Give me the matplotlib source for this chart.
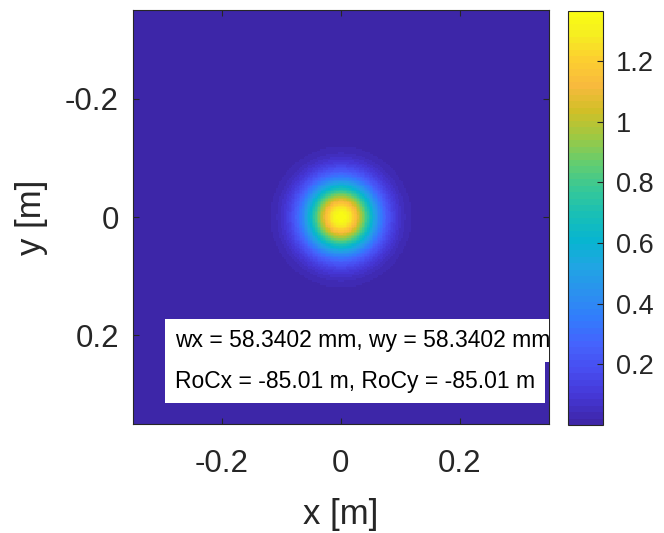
import numpy as np
import matplotlib
matplotlib.use("Agg")
import matplotlib.pyplot as plt
from matplotlib.colors import LinearSegmentedColormap

# beam parameters shown in the annotation
wx_mm = 58.3402
wy_mm = 58.3402
rocx_m = -85.01
rocy_m = -85.01
peak_amp = 1.366          # field amplitude at the beam centre
half_width = 0.35         # half size of the simulation window [m]
n_grid = 256

xticks = [-0.2, 0, 0.2]
yticks = [-0.2, 0, 0.2]
cticks = [0.2, 0.4, 0.6, 0.8, 1.0, 1.2]

# parula, every 4th entry of the 64-colour table
parula_pts = [
    (0.2422, 0.1504, 0.6603), (0.2706, 0.2147, 0.8364), (0.2813, 0.3006, 0.9414),
    (0.2699, 0.3892, 0.9906), (0.1963, 0.4847, 0.9892), (0.1687, 0.5703, 0.9359),
    (0.1248, 0.6459, 0.8883), (0.0297, 0.7082, 0.8163), (0.0964, 0.7500, 0.7120),
    (0.2161, 0.7843, 0.5923), (0.3909, 0.8029, 0.4354), (0.6174, 0.7876, 0.2612),
    (0.8203, 0.7498, 0.1535), (0.9728, 0.7298, 0.2394), (0.9892, 0.8136, 0.1885),
    (0.9628, 0.9373, 0.1265), (0.9769, 0.9839, 0.0805),
]
parula_pos = [i * 4 / 63 for i in range(16)] + [1.0]
parula = LinearSegmentedColormap.from_list(
    "parula", list(zip(parula_pos, parula_pts)), N=64)


def main():
    plt.rcParams['font.family'] = ['Liberation Sans', 'DejaVu Sans']
    dark = '#262626'

    x = np.linspace(-half_width, half_width, n_grid)
    y = np.linspace(-half_width, half_width, n_grid)
    X, Y = np.meshgrid(x, y)
    wx = wx_mm / 1000
    wy = wy_mm / 1000
    E = peak_amp * np.exp(-X**2 / wx**2 - Y**2 / wy**2)

    fig = plt.figure(figsize=(6.64, 5.33), dpi=100)
    ax = fig.add_axes([0.2003, 0.2045, 0.626, 0.7767])
    im = ax.imshow(E, cmap=parula, extent=(x[0], x[-1], y[-1], y[0]),
                   aspect='auto', interpolation='nearest',
                   vmin=E.min(), vmax=E.max())
    ax.set_xlim(-half_width, half_width)
    ax.set_ylim(half_width, -half_width)
    ax.set_xticks(xticks)
    ax.set_yticks(yticks)
    ax.set_xticklabels(['-0.2', '0', '0.2'])
    ax.set_yticklabels(['-0.2', '0', '0.2'])
    ax.tick_params(direction='in', length=4, width=0.8, colors=dark,
                   labelsize=22.5, top=True, right=True)
    ax.tick_params(axis='x', pad=18)
    ax.tick_params(axis='y', pad=10)
    for s in ax.spines.values():
        s.set_color(dark)
        s.set_linewidth(0.8)
    ax.set_xlabel('x [m]', fontsize=25, color=dark, labelpad=14)
    ax.set_ylabel('y [m]', fontsize=25, color=dark, labelpad=12)

    # annotation boxes, clipped by the axes
    box = dict(facecolor='white', edgecolor='none', boxstyle='square,pad=0.44')
    ax.text(-0.279, 0.2085, 'wx = %.4f mm, wy = %.4f mm' % (wx_mm, wy_mm),
            fontsize=16.5, va='center', ha='left', color='black',
            bbox=box, clip_on=True)
    ax.text(-0.279, 0.2785, 'RoCx = %.2f m, RoCy = %.2f m' % (rocx_m, rocy_m),
            fontsize=16.5, va='center', ha='left', color='black',
            bbox=box, clip_on=True)

    cax = fig.add_axes([0.855, 0.2026, 0.0536, 0.777])
    cb = fig.colorbar(im, cax=cax)
    cb.set_ticks(cticks)
    cb.set_ticklabels(['0.2', '0.4', '0.6', '0.8', '1', '1.2'])
    cax.tick_params(direction='in', length=4, width=0.8, colors=dark,
                    labelsize=19.5, pad=9)
    cb.outline.set_edgecolor(dark)
    cb.outline.set_linewidth(0.8)

    fig.savefig('out.png', dpi=100)


if __name__ == "__main__":
    main()
